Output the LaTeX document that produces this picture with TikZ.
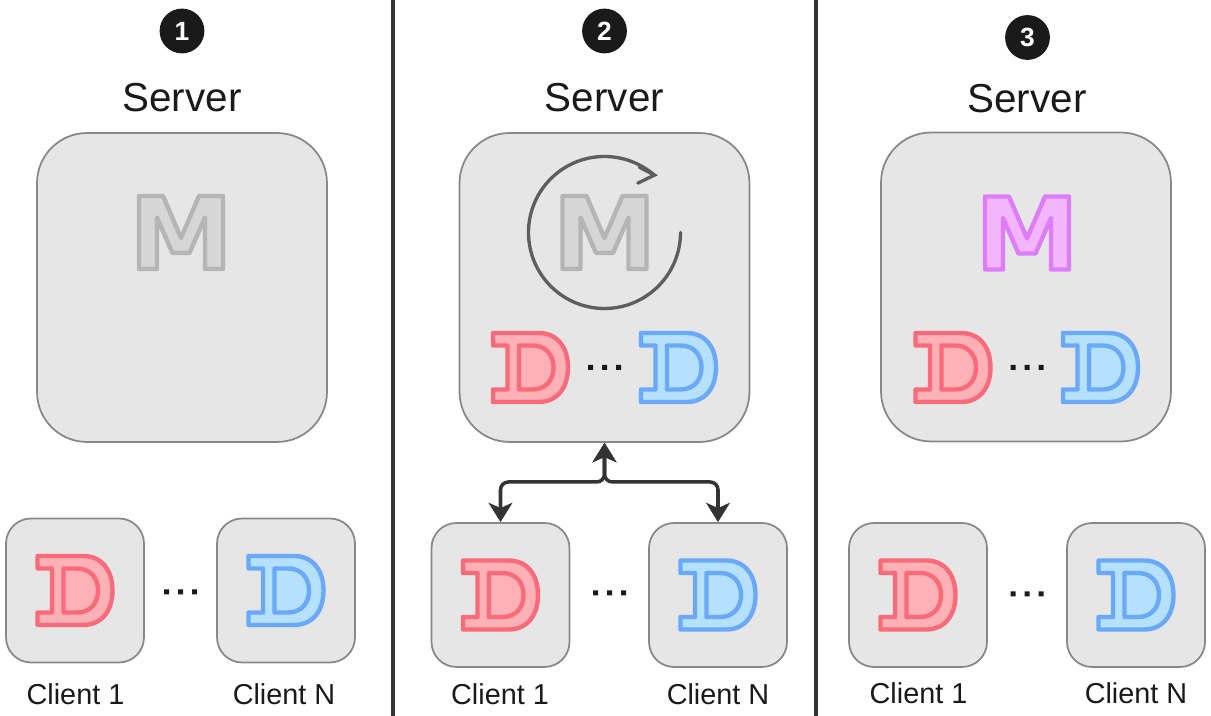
\documentclass[tikz,border=0pt]{standalone}
\usepackage{fontspec}
\setmainfont{Liberation Sans}
\usetikzlibrary{arrows.meta,positioning}
\definecolor{boxfill}{HTML}{E6E6E6}
\definecolor{boxline}{HTML}{888888}
\definecolor{redfill}{HTML}{FFB1B6}
\definecolor{redline}{HTML}{F96B7A}
\definecolor{bluefill}{HTML}{B5E1FF}
\definecolor{blueline}{HTML}{6AA9FA}
\definecolor{grayfill}{HTML}{D6D6D6}
\definecolor{grayline}{HTML}{B5B5B5}
\definecolor{pinkfill}{HTML}{F4B5FF}
\definecolor{pinkline}{HTML}{DD7EF8}
\definecolor{ink}{HTML}{1A1A1A}
\definecolor{wire}{HTML}{333333}
\definecolor{spinline}{HTML}{5E5E5E}
\tikzset{
  server/.style={draw=boxline,fill=boxfill,line width=1pt,rounded corners=1cm,
    minimum width=5.8cm,minimum height=6.18cm},
  client/.style={draw=boxline,fill=boxfill,line width=1pt,rounded corners=0.5cm,
    minimum width=2.76cm,minimum height=2.88cm},
  srvlabel/.style={anchor=base,text=ink,font=\fontsize{23}{27}\selectfont},
  lbl/.style={anchor=base,text=ink,font=\fontsize{16.4}{19}\selectfont},
  num/.style={circle,fill=ink,text=white,minimum size=25.5pt,inner sep=0pt,
    font=\bfseries\fontsize{15}{18}\selectfont},
  link/.style={draw=wire,line width=2pt,rounded corners=4.5pt,<->},
  spin/.style={draw=spinline,line width=1.9pt,line cap=round},
  divider/.style={draw=wire,line width=2.2pt},
  pics/emm/.style 2 args={code={
    \filldraw[fill=#1,draw=#2,line width=2.5pt,line join=round]
      (-42,-36.5) -- (-42,36.5) -- (-18,36.5) -- (0,-5.5) -- (18,36.5) -- (42,36.5)
      -- (42,-36.5) -- (24,-36.5) -- (24,15) -- (8.5,-20.5) -- (-8.5,-20.5)
      -- (-24,15) -- (-24,-36.5) -- cycle;}},
  pics/dee/.style 2 args={code={
    \filldraw[fill=#1,draw=#2,line width=2.5pt,line join=round]
      (-37.5,-34.5) -- (-37.5,-22) -- (-23,-22) -- (-23,22) -- (-37.5,22) -- (-37.5,34.5)
      -- (8,34.5) .. controls (27,34.5) and (37.5,20) .. (37.5,0)
      .. controls (37.5,-20) and (27,-34.5) .. (8,-34.5) -- cycle;
    \filldraw[fill=#1,draw=#2,line width=2.5pt,line join=round]
      (-11.5,-22) -- (-11.5,22) -- (2,22) .. controls (15,22) and (23,13) .. (23,0)
      .. controls (23,-13) and (15,-22) .. (2,-22) -- cycle;}},
  pics/ellip/.style={code={
    \fill[ink] (-16.5,-2.5) rectangle ++(5,5) (-2.5,-2.5) rectangle ++(5,5)
      (11.5,-2.5) rectangle ++(5,5);}}
}
\begin{document}
\begin{tikzpicture}[x=0.02cm,y=0.02cm,>={Stealth[length=11pt,width=13.5pt,inset=3pt]}]
\useasboundingbox (0,0) rectangle (1211,716);
% panel borders
\draw[divider] (393,0) -- (393,716) (816,0) -- (816,716);
% step numbers and titles
\node[num] (n1) at (182,685) {1};
\node[num] (n2) at (604.5,685) {2};
\node[num] (n3) at (1027.5,678.5) {3};
\node[srvlabel] (t1) at (182,604) {Server};
\node[srvlabel] (t2) at (604.5,604) {Server};
\node[srvlabel] (t3) at (1027,603) {Server};
% servers
\node[server] (s1) at (182,428.5) {};
\node[server] (s2) at (604.5,428.5) {};
\node[server] (s3) at (1026,429) {};
\coordinate (m1) at (181,483.5);
\coordinate (m2) at (604.5,483.5);
\coordinate (m3) at (1027,483);
\pic at (m1) {emm={grayfill}{grayline}};
\pic at (m2) {emm={grayfill}{grayline}};
\pic at (m3) {emm={pinkfill}{pinkline}};
\draw[spin] (m2) ++(76,0) arc[start angle=0,end angle=-311,radius=76] coordinate (aend);
\draw[spin] ([shift={(-15,8)}]aend) -- (aend) -- ++(-16.5,-8);
\pic at (530.5,348.5) {dee={redfill}{redline}};
\pic at (604.5,348.5) {ellip};
\pic at (678.5,348.5) {dee={bluefill}{blueline}};
\pic at (953,348.5) {dee={redfill}{redline}};
\pic at (1027,348.5) {ellip};
\pic at (1100.5,348.5) {dee={bluefill}{blueline}};
% clients
\node[client] (c1a) at (75,125.5) {};
\node[client] (c1b) at (286,125.5) {};
\node[client] (c2a) at (500.5,121) {};
\node[client] (c2b) at (718,121) {};
\node[client] (c3a) at (918,121) {};
\node[client] (c3b) at (1136,121) {};
\pic at (c1a) {dee={redfill}{redline}};
\pic at (c1b) {dee={bluefill}{blueline}};
\pic at (c2a) {dee={redfill}{redline}};
\pic at (c2b) {dee={bluefill}{blueline}};
\pic at (c3a) {dee={redfill}{redline}};
\pic at (c3b) {dee={bluefill}{blueline}};
\pic at (180.5,124) {ellip};
\pic at (609.5,123) {ellip};
\pic at (1027,122) {ellip};
\node[lbl] (l1a) at (75.5,11) {Client 1};
\node[lbl] (l1b) at (284,11) {Client N};
\node[lbl] (l2a) at (500,11) {Client 1};
\node[lbl] (l2b) at (718,11) {Client N};
\node[lbl] (l3a) at (918.5,12) {Client 1};
\node[lbl] (l3b) at (1136,12) {Client N};
% sync arrows
\coordinate (j2) at (604.5,234);
\draw[link] (c2a.north) |- (j2) -- (s2.south);
\draw[link] (c2b.north) |- (j2) -- (s2.south);
\end{tikzpicture}
\end{document}
